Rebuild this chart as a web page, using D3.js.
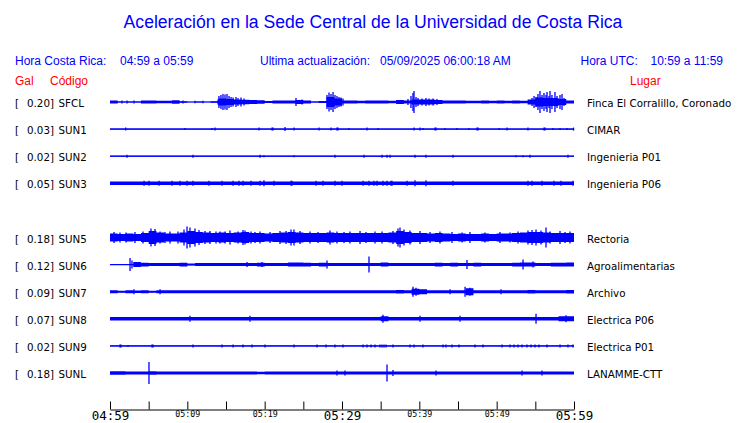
<!DOCTYPE html>
<html>
<head>
<meta charset="utf-8">
<script src="https://cdn.jsdelivr.net/npm/d3@7"></script>
<style>
  html, body { margin: 0; padding: 0; background: #fff; }
  svg { display: block; }
</style>
</head>
<body>
<svg id="chart" width="740" height="423"></svg>
<script>
// ---------------- DATA ----------------
const title = "Aceleración en la Sede Central de la Universidad de Costa Rica";
const localRange = "04:59 a 05:59";
const updated = "05/09/2025 06:00:18 AM";
const utcRange = "10:59 a 11:59";

const startTime = "2025-05-09T04:59:00";
const endTime = "2025-05-09T05:59:00";

// row slots (SUN4 slot is empty)
const slots = ["SFCL", "SUN1", "SUN2", "SUN3", "SUN4", "SUN5", "SUN6", "SUN7", "SUN8", "SUN9", "SUNL"];
const codes = ["SFCL", "SUN1", "SUN2", "SUN3", "SUN5", "SUN6", "SUN7", "SUN8", "SUN9", "SUNL"];
const galMax = ["0.20", "0.03", "0.02", "0.05", "0.18", "0.12", "0.09", "0.07", "0.02", "0.18"];
const places = ["Finca El Corralillo, Coronado", "CIMAR", "Ingenieria P01", "Ingenieria P06", "Rectoria",
  "Agroalimentarias", "Archivo", "Electrica P06", "Electrica P01", "LANAMME-CTT"];

// envelope (relative amplitude, one value per minute after 04:59)
const envSFCL = [1.5,0.5,0.5,0.5,1.5,1.5,1.2,1.2,1.8,0.8, 0.3,0.5,0.3,0.8,3.5,3,2.5,2.3,2,1.8,
  1,1.5,1.5,1.5,2,1.5,0.6,1,5,3.5, 1.5,1.5,1.3,1.5,1.5,1.5,1.3,2,1.5,2.5,
  2.5,2.5,2,1.5,1.5,1.5,1.3,1.3,1.5,1.3, 1.5,1.3,1.5,1.3,2.5,4.5,4,4,3,1.5];
const envSUN1 = [0.5,0.5,0.5,0.5,0.5,0.5,0.5,0.5,0.5,0.5, 0.5,0.5,0.5,0.5,0.5,0.5,0.5,0.5,0.5,0.5,
  0.5,0.5,0.5,0.5,0.5,0.5,0.5,0.5,0.5,0.5, 0.5,0.5,0.5,0.5,0.5,0.5,0.5,0.5,0.5,0.5,
  0.5,0.5,0.5,0.5,0.5,0.5,0.5,0.5,0.5,0.5, 0.5,0.5,0.5,0.5,0.5,0.5,0.5,0.5,0.5,0.5];
const envSUN2 = [0.5,0.5,0.5,0.5,0.5,0.5,0.5,0.5,0.5,0.5, 0.5,0.5,0.5,0.5,0.5,0.5,0.5,0.5,0.5,0.5,
  0.5,0.5,0.5,0.5,0.5,0.5,0.5,0.5,0.5,0.5, 0.5,0.5,0.5,0.5,0.5,0.5,0.5,0.5,0.5,0.5,
  0.5,0.5,0.5,0.5,0.5,0.5,0.5,0.5,0.5,0.5, 0.5,0.5,0.5,0.5,0.5,0.5,0.5,0.5,0.5,0.5];
const envSUN3 = [1.7,1.7,1.7,1.7,1.7,1.7,1.7,1.7,1.7,1.7, 1.7,1.7,1.7,1.7,1.7,1.7,1.7,1.7,1.7,1.7,
  1.7,1.7,1.7,1.7,1.7,1.7,1.7,1.7,1.7,1.7, 1.7,1.7,1.7,1.7,1.7,1.7,1.7,1.7,1.7,1.7,
  1.7,1.7,1.7,1.7,1.7,1.7,1.7,1.7,1.7,1.7, 1.7,1.7,1.7,1.7,1.7,1.7,1.7,1.7,1.7,1.7];
const envSUN5 = [4,3.5,4,3.5,4.5,6.5,5,4,4,5, 6.5,5.5,5,4.5,5,4.5,5,5.5,4.5,4.5,
  4,4.5,5,5.5,5,4.5,4.5,4.5,5,4.5, 4.5,4.5,4.5,4.5,4.5,4.5,5,6.5,5.5,4.5,
  4.5,4,4.5,4,3.5,4,3.5,3.5,4,3.5, 4,4,4.5,5,5.5,5.5,5,4.5,4.5,4.5];
const envSUN6 = [0.5,0.5,0.5,2.5,1.8,1.5,1.5,1.5,1.5,1.8, 1,1.5,1.5,1.5,1.5,1.5,1.5,1.5,1.5,1.8,
  1.5,1.5,1.5,2,2,1.8,1.5,1.8,1.5,1.5, 1.5,1.5,1.5,1.5,1.5,2,1.5,1.5,1.5,1.5,
  1.5,1.5,1.8,1.5,1.8,1.5,1.5,1.8,1.5,1.5, 1.5,1.5,1.8,2,2,1.5,1.5,1.8,1.8,2];
const envSUN7 = [1.5,1,1.5,1.2,1.5,1,1.5,1.5,1.5,1.5, 1.5,1.5,1.5,1.5,1.5,1.5,1.5,1.5,1.5,1.5,
  1.5,1.5,1.5,1.5,1.5,1.5,1.5,1.5,1.5,1.5, 1.5,1.5,1.5,1.5,1.5,1.5,1.5,1.8,1.5,3,
  2.5,1.5,1.5,1.5,1.5,1.5,3.5,1.5,1.5,1.5, 1.5,1.5,1.5,1.5,1.8,1.5,1.5,1.5,1.5,1.8];
const envSUN8 = [1.8,1.8,1.8,1.8,1.8,1.8,1.8,1.8,1.8,1.8, 1.8,1.8,1.8,1.8,1.8,1.8,1.8,1.8,1.8,1.8,
  1.8,1.8,1.8,1.8,1.8,1.8,1.8,1.8,1.8,1.8, 1.8,1.8,1.8,1.8,1.8,2.5,1.8,1.8,1.8,1.8,
  1.8,1.8,1.8,1.8,1.8,1.8,1.8,1.8,1.8,1.8, 1.8,1.8,1.8,1.8,1.8,1.8,1.8,1.8,2.5,2.5];
const envSUN9 = [0.5,0.5,0.5,0.5,0.5,0.5,0.5,0.5,0.5,0.5, 0.5,0.5,0.5,0.5,0.5,0.5,0.5,0.5,0.5,0.5,
  0.5,0.5,0.5,0.5,0.5,0.5,0.5,0.5,0.5,0.5, 0.5,0.5,0.5,0.5,0.5,0.5,0.5,0.5,0.5,0.5,
  0.5,0.5,0.5,0.5,0.5,0.5,0.5,0.5,0.5,0.5, 0.5,0.5,0.5,0.5,0.5,0.5,0.5,0.5,0.5,0.5];
const envSUNL = [1.8,1.8,1.5,1.5,1.5,1.8,1.5,1.5,1.5,1.5, 1.5,1.5,1.5,1.5,1.5,1.5,1.5,1.5,1.5,1.2,
  1.5,1.5,1.5,1.5,1.5,1.5,1.5,1.5,1.5,1.5, 1.5,1.5,1.5,1.5,1.5,1.5,1.5,1.5,1.5,1.5,
  1.5,1.5,1.5,1.5,1.5,1.5,1.5,1.5,1.5,1.5, 1.5,1.5,1.5,1.5,1.5,1.5,1.5,1.5,1.5,1.5];

// spikes: [minutes after 04:59, relative amplitude]
const spkSFCL = [[1.55,1.5],[2.2,1.5],[3.1,1.5],[9.44,1.5],[10.99,1.2],[12.03,1.2],[13.97,2.5],
  [14.09,6],[14.35,7],[14.61,8],[14.87,7.5],[15.13,8],[15.39,6],[15.65,5],[15.91,4.5],[16.29,5],[16.55,4],[16.94,4.5],[17.33,3.5],
  [24.05,4],[24.83,2.5],
  [28.06,7],[28.32,9.5],[28.58,8],[28.84,10],[29.09,7],[29.35,6],[29.61,5],[29.87,4.5],[30.13,3.5],
  [38.53,3],[38.92,6],[39.18,9],[39.31,11],[39.57,5],[39.83,4],
  [40.34,3.5],[40.86,4],[41.25,3.5],[41.77,3.5],[42.28,3],
  [54.57,4],[54.83,6],[55.09,5],[55.34,8],[55.6,11],[55.86,7],[56.12,9],[56.38,7],[56.51,10],[56.77,6],[56.9,11],
  [57.15,7],[57.54,10],[57.80,6],[58.19,7],[58.45,8],[58.71,4]];
const spkSUN1 = [[2.03,1.5],[9.70,1],[13.19,1],[13.58,1.5],[19.27,1.5],[20.95,1.5],[21.08,1.5],[22.63,2],[23.79,1.5],
  [27.03,1.5],[28.58,1.5],[29.35,1.5],[29.48,1.5],[30.90,1],[33.23,1.5],[34.65,1],[39.31,1.5],[40.09,1.5],[40.47,1],
  [42.03,1.5],[42.16,1.5],[43.32,1],[44.87,1],[46.42,1],[47.46,1.5],[47.59,1.5],[50.30,1],[51.34,1.5],[54.05,1.5],
  [56.12,1.5],[56.25,1.5],[57.28,1],[58.19,1],[59.09,1],[59.94,1.5]];
const spkSUN2 = [[2.2,1.5],[10.73,1.5],[19.40,1.5],[19.91,1],[23.79,1],[29.09,1.5],[32.84,1.5],[35.17,1.5],[35.82,1.5],
  [36.21,1.5],[39.44,1.5],[40.86,1.5],[44.35,1.5],[52.50,1],[53.41,1],[54.31,1.5],[59.22,1.5]];
const spkSUN3 = [[4.40,2.5],[5.04,2.5],[6.34,2.5],[8.02,2.5],[9.05,2.5],[9.96,2.5],[10.73,2.5],[12.80,2.5],[14.48,2.5],
  [15.91,2.5],[16.68,2.5],[17.20,2.5],[18.23,2.5],[19.40,2.5],[19.91,3],[21.21,2.5],[23.41,2.5],[23.53,2.5],[26.64,2.5],
  [27.54,2.5],[29.09,2.5],[30.0,2.5],[32.72,2.5],[33.49,2.5],[34.14,2.5],[34.53,2.5],[35.30,2.5],[35.82,2.5],[36.34,2.5],
  [36.47,2.5],[38.41,2.5],[39.44,3],[40.86,3],[44.35,2.5],[54.05,2.5],[54.57,2.5],[55.86,2.5],[57.41,2.5],[58.32,2.5],[59.87,2.5]];
const spkSUN5 = [[0.52,5.5],[1.29,5],[2.07,5],[3.23,5.5],[4.27,6],[5.30,9],[5.82,8.5],[6.47,6],[7.11,5.5],[7.76,6],
  [8.79,6],[9.57,8],[9.96,11],[10.34,10],[10.99,9],[11.51,7.5],[12.28,6.5],[12.93,6.5],[13.71,6],[14.22,6],[14.87,6],
  [15.52,7],[16.55,6],[17.20,7.5],[17.46,7],[18.23,6],[18.75,5.5],[19.40,6],[20.69,5.5],[21.98,6.5],[22.76,6.5],
  [23.41,8],[23.79,8],[24.57,6.5],[25.86,6],[26.90,5.5],[28.45,7],[29.35,6],[30.26,5.5],[31.03,6],[32.33,6.5],
  [33.10,5.5],[34.27,6],[35.17,6],[36.59,6.5],[37.24,9],[37.50,10],[38.02,8],[38.79,7],[40.09,6.5],[41.38,5.5],
  [42.67,6],[44.22,5.5],[45.52,5],[46.55,5.5],[48.49,5],[50.43,5.5],[51.72,5],[52.76,6],[54.05,7],[54.57,7.5],
  [55.09,8],[55.73,7],[56.38,10],[56.90,6],[58.19,6.5],[58.84,5.5],[59.48,6]];
const spkSUN6 = [[2.59,6.5],[2.84,4],[17.72,2.5],[19.66,2.5],[28.06,4],[33.49,8],[46.16,4.5],[53.41,5],[54.70,3]];
const spkSUN7 = [[3.10,2.5],[6.47,2.5],[39.18,5],[39.57,4],[43.97,2.5],[45.91,5],[46.55,4],[50.56,2.5]];
const spkSUN8 = [[10.34,3],[18.10,3],[35.30,4],[40.09,3],[45.26,3],[55.09,5],[58.97,3.5]];
const spkSUN9 = [[1.29,1.5],[1.42,1.5],[2.33,1],[5.43,1.5],[5.56,1.5],[10.73,1.5],[14.48,1.5],[15.91,1.5],[17.20,1.5],
  [18.36,1.5],[20.04,1.5],[23.79,1.5],[26.77,1.5],[27.93,1.5],[29.09,1.5],[30.13,1.5],[32.72,1.5],[33.23,1.5],[33.75,1.5],
  [34.27,1.5],[34.91,1.5],[35.17,1.5],[35.43,1.5],[35.69,1.5],[36.59,1.5],[38.79,1.5],[39.31,1.5],[40.47,1.5],[43.06,1.5],
  [43.45,1.5],[44.22,1.5],[45.13,1.5],[47.20,1.5],[48.23,1.5],[50.69,1.5],[51.72,1.5],[52.24,1.5],[52.76,1.5],[53.28,1.5],
  [53.92,1.5],[54.44,1.5],[54.96,1.5],[55.47,1.5],[56.51,1.5],[58.19,1.5],[59.22,1.5],[59.87,1.5]];
const spkSUNL = [[5.04,11],[29.35,2.5],[30.39,2.5],[35.82,8.5],[36.59,3],[42.16,2.5],[53.28,2.5],[55.86,2.5]];

const envelopes = [envSFCL, envSUN1, envSUN2, envSUN3, envSUN5, envSUN6, envSUN7, envSUN8, envSUN9, envSUNL];
const spikes = [spkSFCL, spkSUN1, spkSUN2, spkSUN3, spkSUN5, spkSUN6, spkSUN7, spkSUN8, spkSUN9, spkSUNL];

const tickTimes = ["04:59","05:04","05:09","05:14","05:19","05:24","05:29","05:34","05:39","05:44","05:49","05:54","05:59"];
const smallLabels = ["05:09","05:19","05:39","05:49"];
const bigLabels = ["04:59","05:29","05:59"];

// ---------------- DRAW ----------------
const BLUE = "#0000ff";
const RED = "#ff0000";
const svg = d3.select("#chart");
const parse = d3.timeParse("%Y-%m-%dT%H:%M:%S");
const t0 = parse(startTime), t1 = parse(endTime);
const x = d3.scaleTime().domain([t0, t1]).range([110, 574]);
const rowY = d3.scalePoint().domain(slots).range([102, 373]);
const atMin = m => new Date(t0.getTime() + m * 60000);

const sans = "'Liberation Sans', Arial, sans-serif";
const dv = "'DejaVu Sans', sans-serif";

svg.append("text").attr("x", 373).attr("y", 28).attr("text-anchor", "middle")
  .attr("font-family", sans).attr("font-size", 17.6).attr("fill", BLUE).text(title);

const hdr = [["Hora Costa Rica:", 15], [localRange, 120], ["Ultima actualización:", 260], [updated, 380],
  ["Hora UTC:", 580.5], [utcRange, 650.5]];
svg.selectAll("text.hdr").data(hdr).join("text").attr("class", "hdr")
  .attr("x", d => d[1]).attr("y", 65).attr("font-family", sans).attr("font-size", 12)
  .attr("fill", BLUE).text(d => d[0]);

const red = [["Gal", 15], ["Código", 50], ["Lugar", 630]];
svg.selectAll("text.red").data(red).join("text").attr("class", "red")
  .attr("x", d => d[1]).attr("y", 85).attr("font-family", sans).attr("font-size", 12)
  .attr("fill", RED).text(d => d[0]);

codes.forEach((code, i) => {
  const y0 = rowY(code);
  const y = d3.scaleLinear().domain([-12, 12]).range([y0 + 12, y0 - 12]);
  const g = svg.append("g");
  const env = envelopes[i].map((v, k) => [k, v]);
  env.push([60, envelopes[i][envelopes[i].length - 1]]);
  const area = d3.area().curve(d3.curveStepAfter)
    .x(d => x(atMin(d[0]))).y0(d => y(-d[1])).y1(d => y(d[1]));
  g.append("path").attr("d", area(env)).attr("fill", BLUE);
  g.append("line").attr("x1", x(t0)).attr("x2", x(t1)).attr("y1", y(0)).attr("y2", y(0))
    .attr("stroke", BLUE).attr("stroke-width", 1.2);
  g.selectAll("line.spk").data(spikes[i]).join("line").attr("class", "spk")
    .attr("x1", d => x(atMin(d[0]))).attr("x2", d => x(atMin(d[0])))
    .attr("y1", d => y(-d[1])).attr("y2", d => y(d[1]))
    .attr("stroke", BLUE).attr("stroke-width", 1.3);

  svg.append("text").attr("x", 15).attr("y", y0 + 5).attr("font-family", dv).attr("font-size", 10.3)
    .attr("fill", "#000").text("[");
  svg.append("text").attr("x", 54).attr("y", y0 + 5).attr("text-anchor", "end").attr("font-family", dv)
    .attr("font-size", 10.3).attr("fill", "#000").text(galMax[i] + "]");
  svg.append("text").attr("x", 58.5).attr("y", y0 + 5).attr("font-family", dv).attr("font-size", 10.3)
    .attr("fill", "#000").text(code);
  svg.append("text").attr("x", 587).attr("y", y0 + 5).attr("font-family", dv).attr("font-size", 10.3)
    .attr("fill", "#000").text(places[i]);
});

// time axis
const tickParse = s => parse("2025-05-09T" + s + ":00");
const axis = d3.axisBottom(x).tickValues(tickTimes.map(tickParse)).tickSizeInner(-8).tickSizeOuter(0)
  .tickFormat(d => {
    const s = d3.timeFormat("%H:%M")(d);
    return (smallLabels.includes(s) || bigLabels.includes(s)) ? s : "";
  });
const ax = svg.append("g").attr("transform", "translate(0,409.5)").call(axis);
ax.select(".domain").attr("stroke", "#000");
ax.selectAll(".tick line").attr("stroke", "#000");
ax.selectAll(".tick text").attr("fill", "#000").attr("dy", 0)
  .attr("font-family", "'DejaVu Sans Mono', monospace")
  .each(function() {
    const s = d3.select(this).text();
    const big = bigLabels.includes(s);
    d3.select(this).attr("font-size", big ? 12.5 : 8.3).attr("y", big ? 10 : 7.5)
      .attr("font-weight", "normal");
  });
</script>
</body>
</html>
